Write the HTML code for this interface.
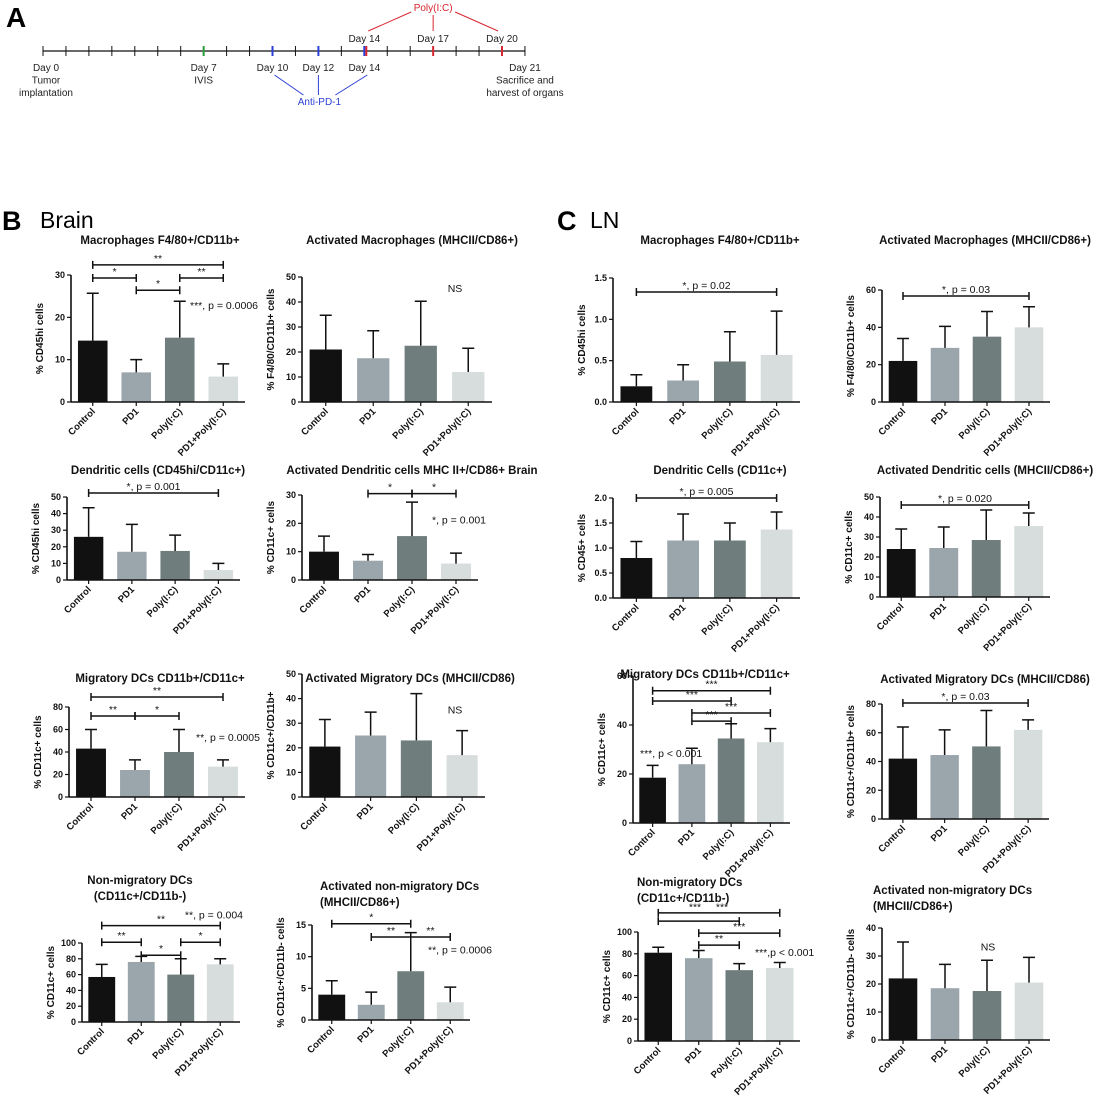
<!DOCTYPE html>
<html><head><meta charset="utf-8">
<style>
html,body{margin:0;padding:0;background:#fff;}
svg{display:block;font-family:"Liberation Sans",sans-serif;}
.t{font-weight:bold;font-size:11.5px;fill:#111;}
.tick{font-weight:bold;font-size:9px;fill:#111;}
.xl{font-weight:bold;font-size:9.5px;fill:#111;}
.yl{font-weight:bold;font-size:10px;fill:#111;}
.an{font-size:10.5px;fill:#111;}
</style></head>
<body>
<svg id="fig" width="1100" height="1102" viewBox="0 0 1100 1102">
<g id="timeline">
<text x="6" y="27" font-size="28" font-weight="bold">A</text>
<line x1="43" y1="51" x2="525" y2="51" stroke="#111" stroke-width="1.2"/>
</g>
<text x="2" y="230" font-size="27" font-weight="bold">B</text>
<text x="40" y="228" font-size="23">Brain</text>
<text x="557" y="230" font-size="27" font-weight="bold">C</text>
<text x="590" y="228" font-size="23">LN</text>
</svg>
<script>
const NS="http://www.w3.org/2000/svg";
const svg=document.getElementById('fig');
function mk(tag,attrs,parent,txt){const e=document.createElementNS(NS,tag);for(const k in attrs)e.setAttribute(k,attrs[k]);if(txt!==undefined)e.textContent=txt;(parent||svg).appendChild(e);return e;}

// ---- Timeline data ----
const tlDays=[0,1,2,3,4,5,6,7,8,9,10,11,12,13,14,15,16,17,18,19,20,21];
const tlColored=[[7,'#2a9d3a'],[10,'#2b3fd6'],[12,'#2b3fd6'],[14,'#2b3fd6'],[17,'#d8262e'],[20,'#d8262e']];
const tl=document.getElementById('timeline');
function dx(d){return 43+d*22.95;}
tlDays.forEach(d=>{
  const l=mk('line',{x1:dx(d),y1:46,x2:dx(d),y2:56,stroke:'#111','stroke-width':1},tl);
  
  
});
tlColored.forEach(([d,c])=>{
  const l=mk('line',{x1:dx(d),y1:46,x2:dx(d),y2:56,stroke:c,'stroke-width':2},tl);
  
  
});
mk('line',{x1:dx(14)+2,y1:46,x2:dx(14)+2,y2:56,stroke:'#d8262e','stroke-width':2},tl);
const tlLabels=[[0,['Day 0','Tumor','implantation']],[7,['Day 7','IVIS']],[10,['Day 10']],[12,['Day 12']],[14,['Day 14']],[21,['Day 21','Sacrifice and','harvest of organs']]];
tlLabels.forEach(([d,lines])=>{
  lines.forEach((s,i)=>{
    const t=mk('text',{x:dx(d)+(d===0?3:0),y:71+i*12.5,'font-size':10,'text-anchor':'middle',fill:'#222'},tl,s);
    
    
  });
});
[[14,'Day 14'],[17,'Day 17'],[20,'Day 20']].forEach(([d,s])=>{
  const t=mk('text',{x:dx(d),y:42,'font-size':10,'text-anchor':'middle',fill:'#222'},tl,s);
  
  
});
const pt=mk('text',{x:dx(17),y:11,'font-size':10,'text-anchor':'middle',fill:'#d8262e'},tl,'Poly(I:C)');


[[dx(17)-22,12,dx(14)+4,31],[dx(17),15,dx(17),31],[dx(17)+22,12,dx(20)-4,31]].forEach(p=>mk('line',{x1:p[0],y1:p[1],x2:p[2],y2:p[3],stroke:'#d8262e','stroke-width':1},tl));
const at=mk('text',{x:dx(12)+1,y:105,'font-size':10,'text-anchor':'middle',fill:'#2b3fd6'},tl,'Anti-PD-1');


[[dx(10)+2,75,dx(12)-15,95],[dx(12),75,dx(12),95],[dx(14)+3,75,dx(12)+17,95]].forEach(p=>mk('line',{x1:p[0],y1:p[1],x2:p[2],y2:p[3],stroke:'#2b3fd6','stroke-width':1},tl));

// ---- Bar chart data ----
const categories=['Control','PD1','Poly(I:C)','PD1+Poly(I:C)'];
const barColors=['#111111','#9ba6ac','#6f7e7d','#d7dddc'];

const b1Vals=[14.5,7,15.2,6], b1Err=[25.7,10,23.8,9];
const b2Vals=[21,17.5,22.5,12], b2Err=[34.7,28.5,40.3,21.5];
const b3Vals=[26,17,17.5,6], b3Err=[43.5,33.5,27,10];
const b4Vals=[10,6.8,15.5,5.8], b4Err=[15.5,9,27.5,9.5];
const b5Vals=[43,24,40,27], b5Err=[60,33,60,33];
const b6Vals=[20.5,25,23,17], b6Err=[31.5,34.5,42,27];
const b7Vals=[57,76,60,73], b7Err=[73,83,80,80];
const b8Vals=[4,2.4,7.7,2.8], b8Err=[6.2,4.4,13.8,5.2];
const c1Vals=[0.19,0.26,0.49,0.57], c1Err=[0.33,0.45,0.85,1.1];
const c2Vals=[22,29,35,40], c2Err=[34,40.5,48.5,51];
const c3Vals=[0.8,1.15,1.15,1.37], c3Err=[1.13,1.68,1.5,1.72];
const c4Vals=[24,24.5,28.5,35.5], c4Err=[34,35,43.5,42];
const c5Vals=[18.5,24,34.5,33], c5Err=[23.5,30.5,40.5,38.5];
const c6Vals=[42,44.5,50.5,62], c6Err=[64,62,75.5,69];
const c7Vals=[81,76,65,67], c7Err=[86,83,71,72];
const c8Vals=[22,18.5,17.5,20.5], c8Err=[35,27,28.5,29.5];

const b1Ticks=['0','10','20','30'], b2Ticks=['0','10','20','30','40','50'];
const b3Ticks=['0','10','20','30','40','50'], b4Ticks=['0','10','20','30'];
const b5Ticks=['0','20','40','60','80'], b6Ticks=['0','10','20','30','40','50'];
const b7Ticks=['0','20','40','60','80','100'], b8Ticks=['0','5','10','15'];
const c1Ticks=['0.0','0.5','1.0','1.5'], c2Ticks=['0','20','40','60'];
const c3Ticks=['0.0','0.5','1.0','1.5','2.0'], c4Ticks=['0','10','20','30','40','50'];
const c5Ticks=['0','20','40','60'], c6Ticks=['0','20','40','60','80'];
const c7Ticks=['0','20','40','60','80','100'], c8Ticks=['0','10','20','30','40'];

const charts=[
 {id:'b-macrophages',title:['Macrophages F4/80+/CD11b+'],tx:160,ty:244,ax:71,end:245,y0:402,yt:275,ticks:b1Ticks,vals:b1Vals,err:b1Err,ylab:'% CD45hi cells',
  br:[[0,3,'**',32.4],[0,1,'*',29.3],[2,3,'**',29.3],[1,2,'*',26.4]],notes:[['***, p = 0.0006',190,22,'start']]},
 {id:'b-activated-macrophages',title:['Activated Macrophages (MHCII/CD86+)'],tx:412,ty:244,ax:302,end:492,y0:402,yt:277,ticks:b2Ticks,vals:b2Vals,err:b2Err,ylab:'% F4/80/CD11b+ cells',
  br:[],notes:[['NS',455,44,'middle']]},
 {id:'b-dendritic',title:['Dendritic cells (CD45hi/CD11c+)'],tx:158,ty:474,ax:67,end:240,y0:580,yt:497,ticks:b3Ticks,vals:b3Vals,err:b3Err,ylab:'% CD45hi cells',
  br:[[0,3,'*, p = 0.001',52.4]],notes:[]},
 {id:'b-activated-dendritic',title:['Activated Dendritic cells MHC II+/CD86+ Brain'],tx:412,ty:474,ax:302,end:478,y0:580,yt:495,ticks:b4Ticks,vals:b4Vals,err:b4Err,ylab:'% CD11c+ cells',
  br:[[1,2,'*',30.5],[2,3,'*',30.5]],notes:[['*, p = 0.001',432,20,'start']]},
 {id:'b-migratory',title:['Migratory DCs CD11b+/CD11c+'],tx:160,ty:682,ax:69,end:245,y0:797,yt:707,ticks:b5Ticks,vals:b5Vals,err:b5Err,ylab:'% CD11c+ cells',
  br:[[0,3,'**',88.9],[0,1,'**',72],[1,2,'*',72]],notes:[['**, p = 0.0005',196,50,'start']]},
 {id:'b-activated-migratory',title:['Activated Migratory DCs (MHCII/CD86)'],tx:410,ty:682,ax:302,end:485,y0:797,yt:674,ticks:b6Ticks,vals:b6Vals,err:b6Err,ylab:'% CD11c+/CD11b+',
  br:[],notes:[['NS',455,34,'middle']]},
 {id:'b-non-migratory',title:['Non-migratory DCs','(CD11c+/CD11b-)'],tx:140,ty:884,ax:82,end:240,y0:1022,yt:943,ticks:b7Ticks,vals:b7Vals,err:b7Err,ylab:'% CD11c+ cells',
  br:[[0,3,'**',122],[0,1,'**',101],[2,3,'*',101],[1,2,'*',84.5]],notes:[['**, p = 0.004',243,131,'end']]},
 {id:'b-activated-non-migratory',title:['Activated non-migratory DCs','(MHCII/CD86+)'],tx:320,ty:890,anchor:'start',ax:312,end:470,y0:1020,yt:925,ticks:b8Ticks,vals:b8Vals,err:b8Err,ylab:'% CD11c+/CD11b- cells',
  br:[[0,2,'*',15.2],[1,2,'**',13.1],[2,3,'**',13.1]],notes:[['**, p = 0.0006',428,10.5,'start']]},
 {id:'c-macrophages',title:['Macrophages F4/80+/CD11b+'],tx:720,ty:244,ax:613,end:800,y0:402,yt:278,ticks:c1Ticks,vals:c1Vals,err:c1Err,ylab:'% CD45hi cells',
  br:[[0,3,'*, p = 0.02',1.33]],notes:[]},
 {id:'c-activated-macrophages',title:['Activated Macrophages (MHCII/CD86+)'],tx:985,ty:244,ax:882,end:1050,y0:402,yt:290,ticks:c2Ticks,vals:c2Vals,err:c2Err,ylab:'% F4/80/CD11b+ cells',
  br:[[0,3,'*, p = 0.03',56.8]],notes:[]},
 {id:'c-dendritic',title:['Dendritic Cells (CD11c+)'],tx:720,ty:474,ax:613,end:800,y0:598,yt:498,ticks:c3Ticks,vals:c3Vals,err:c3Err,ylab:'% CD45+ cells',
  br:[[0,3,'*, p = 0.005',2.0]],notes:[]},
 {id:'c-activated-dendritic',title:['Activated Dendritic cells (MHCII/CD86+)'],tx:985,ty:474,ax:880,end:1050,y0:597,yt:497,ticks:c4Ticks,vals:c4Vals,err:c4Err,ylab:'% CD11c+ cells',
  br:[[0,3,'*, p = 0.020',46]],notes:[]},
 {id:'c-migratory',title:['Migratory DCs CD11b+/CD11c+'],tx:705,ty:678,ax:633,end:790,y0:823,yt:676,ticks:c5Ticks,vals:c5Vals,err:c5Err,ylab:'% CD11c+ cells',
  br:[[0,3,'***',54],[0,2,'***',49.8],[1,3,'***',44.9],[1,2,'***',41.6]],notes:[['***, p < 0.001',640,27,'start']]},
 {id:'c-activated-migratory',title:['Activated Migratory DCs (MHCII/CD86)'],tx:985,ty:683,ax:882,end:1049,y0:819,yt:704,ticks:c6Ticks,vals:c6Vals,err:c6Err,ylab:'% CD11c+/CD11b+ cells',
  br:[[0,3,'*, p = 0.03',80.7]],notes:[]},
 {id:'c-non-migratory',title:['Non-migratory DCs','(CD11c+/CD11b-)'],tx:637,ty:886,anchor:'start',ax:638,end:800,y0:1041,yt:932,ticks:c7Ticks,vals:c7Vals,err:c7Err,ylab:'% CD11c+ cells',
  br:[[0,3,'',117.5],[0,2,'',110],[1,3,'***',99],[1,2,'**',88]],notes:[['***',695,119.5,'middle'],['***',722,119.5,'middle'],['***,p < 0.001',755,78,'start']]},
 {id:'c-activated-non-migratory',title:['Activated non-migratory DCs','(MHCII/CD86+)'],tx:873,ty:894,anchor:'start',ax:882,end:1050,y0:1040,yt:928,ticks:c8Ticks,vals:c8Vals,err:c8Err,ylab:'% CD11c+/CD11b- cells',
  br:[],notes:[['NS',988,32,'middle']]}
];

charts.forEach(c=>{
  const g=mk('g',{});
  
  
  const max=parseFloat(c.ticks[c.ticks.length-1]);
  const y=v=>c.y0-(v/max)*(c.y0-c.yt);
  const slot=(c.end-c.ax)/4, bw=slot*0.68;
  const cx=i=>c.ax+slot*(i+0.5);
  c.title.forEach((s,i)=>{
    const t=mk('text',{x:c.tx,y:c.ty+i*16,'text-anchor':c.anchor||'middle',class:'t'},g,s);
    
    
  });
  c.vals.forEach((v,i)=>{
    const r=mk('rect',{x:cx(i)-bw/2,y:y(v),width:bw,height:c.y0-y(v),fill:barColors[i]},g);
    
    
    const e=mk('path',{d:`M${cx(i)},${y(v)}V${y(c.err[i])}M${cx(i)-6},${y(c.err[i])}H${cx(i)+6}`,stroke:'#111','stroke-width':1.5,fill:'none'},g);
    
    
  });
  const ya=mk('line',{x1:c.ax,y1:c.yt,x2:c.ax,y2:c.y0,stroke:'#111','stroke-width':1.6},g);
  
  
  const xa=mk('line',{x1:c.ax,y1:c.y0,x2:c.end,y2:c.y0,stroke:'#111','stroke-width':1.6},g);
  
  
  c.ticks.forEach(s=>{
    const v=parseFloat(s);
    mk('line',{x1:c.ax-4,y1:y(v),x2:c.ax,y2:y(v),stroke:'#111','stroke-width':1.2},g);
    const t=mk('text',{x:c.ax-6,y:y(v)+3,'text-anchor':'end',class:'tick'},g,s);
    
    
  });
  categories.forEach((s,i)=>{
    mk('line',{x1:cx(i),y1:c.y0,x2:cx(i),y2:c.y0+4,stroke:'#111','stroke-width':1.2},g);
    const t=mk('text',{x:cx(i)+3,y:c.y0+10,'text-anchor':'end',class:'xl',transform:`rotate(-45 ${cx(i)+3} ${c.y0+10})`},g,s);
    
    
  });
  const ymid=(c.y0+c.yt)/2, yx=c.ax-28;
  const yl=mk('text',{x:yx,y:ymid,'text-anchor':'middle',class:'yl',transform:`rotate(-90 ${yx} ${ymid})`},g,c.ylab);
  
  
  c.br.forEach(([a,b,lab,v])=>{
    const yy=y(v);
    const p=mk('path',{d:`M${cx(a)},${yy-4}V${yy+4}M${cx(a)},${yy}H${cx(b)}M${cx(b)},${yy-4}V${yy+4}`,stroke:'#111','stroke-width':1.5,fill:'none'},g);
    
    
    if(lab){
      const t=mk('text',{x:(cx(a)+cx(b))/2,y:yy-3,'text-anchor':'middle',class:'an','font-size':lab.length>3?10.5:9},g,lab);
      
      
    }
  });
  c.notes.forEach(([s,x,v,anc])=>{
    const t=mk('text',{x:x,y:y(v),'text-anchor':anc,class:'an','font-size':s==='NS'?13:11},g,s);
    
    
  });
});
</script>
</body></html>
